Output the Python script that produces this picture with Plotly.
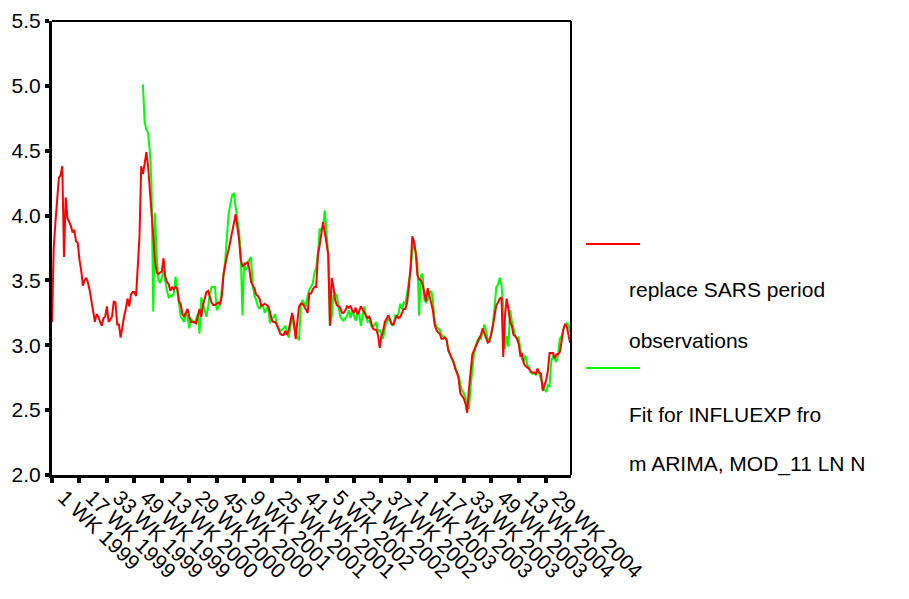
import plotly.graph_objects as go

# Weekly log influenza series: observations (SARS period replaced) and ARIMA fit
years = [1999, 2000, 2001, 2002, 2003, 2004]
weeks_per_year = 52

observed = [
    3.18, 3.75, 3.95, 4.10, 4.29, 4.31, 4.38, 3.68, 4.14, 3.98,
    3.95, 3.92, 3.87, 3.89, 3.80, 3.79, 3.66, 3.58, 3.46, 3.50,
    3.52, 3.48, 3.42, 3.35, 3.27, 3.18, 3.24, 3.22, 3.18, 3.15,
    3.21, 3.22, 3.30, 3.18, 3.20, 3.22, 3.34, 3.33, 3.16, 3.16,
    3.06, 3.16, 3.22, 3.28, 3.36, 3.30, 3.39, 3.41, 3.41, 3.38,
    3.61, 3.84, 4.38, 4.32, 4.40, 4.49, 4.38, 4.22, 4.02, 3.85,
    3.66, 3.56, 3.55, 3.56, 3.57, 3.67, 3.53, 3.49, 3.47, 3.42,
    3.45, 3.43, 3.45, 3.44, 3.34, 3.32, 3.24, 3.22, 3.25, 3.28,
    3.22, 3.18, 3.18, 3.18, 3.17, 3.23, 3.28, 3.22, 3.31, 3.36,
    3.41, 3.42, 3.38, 3.33, 3.31, 3.31, 3.32, 3.33, 3.32, 3.38,
    3.55, 3.64, 3.69, 3.74, 3.80, 3.87, 3.94, 4.01, 3.90, 3.82,
    3.66, 3.61, 3.62, 3.63, 3.64, 3.59, 3.49, 3.46, 3.44, 3.39,
    3.38, 3.36, 3.30, 3.31, 3.32, 3.31, 3.30, 3.26, 3.20, 3.18,
    3.18, 3.16, 3.12, 3.09, 3.08, 3.08, 3.11, 3.08, 3.12, 3.18,
    3.25, 3.18, 3.05, 3.18, 3.30, 3.32, 3.32, 3.30, 3.27, 3.25,
    3.40, 3.40, 3.43, 3.45, 3.45, 3.70, 3.77, 3.88, 3.95, 3.87,
    3.78, 3.70, 3.15, 3.52, 3.45, 3.35, 3.31, 3.30, 3.29, 3.25,
    3.25, 3.27, 3.30, 3.29, 3.30, 3.27, 3.25, 3.29, 3.24, 3.26,
    3.30, 3.28, 3.25, 3.23, 3.21, 3.22, 3.18, 3.13, 3.12, 3.12,
    3.08, 2.98, 3.07, 3.11, 3.18, 3.21, 3.23, 3.20, 3.16, 3.16,
    3.19, 3.23, 3.21, 3.22, 3.25, 3.28, 3.28, 3.33, 3.45, 3.60,
    3.84, 3.80, 3.71, 3.54, 3.51, 3.50, 3.47, 3.40, 3.34, 3.44,
    3.38, 3.32, 3.27, 3.16, 3.12, 3.10, 3.09, 3.05, 3.05, 3.06,
    3.04, 2.96, 2.93, 2.90, 2.87, 2.82, 2.79, 2.74, 2.63, 2.61,
    2.59, 2.55, 2.48, 2.66, 2.80, 2.93, 2.96, 2.99, 3.01, 3.04,
    3.08, 3.13, 3.09, 3.05, 3.02, 3.03, 3.08, 3.15, 3.23, 3.31,
    3.33, 3.36, 3.37, 2.91, 3.22, 3.36, 3.28, 3.18, 3.15, 3.08,
    3.07, 3.05, 3.01, 2.92, 2.93, 2.86, 2.84, 2.83, 2.82, 2.80,
    2.79, 2.79, 2.78, 2.82, 2.79, 2.78, 2.65, 2.69, 2.73, 2.80,
    2.94, 2.94, 2.94, 2.90, 2.93, 2.93, 2.95, 3.03, 3.12, 3.16,
    3.15, 3.08, 3.02,
]

# Fitted values begin one seasonal cycle (plus one week) into the series
fit_start = 53
fitted = [
    5.01, 4.72, 4.66, 4.64, 4.50, 4.25, 3.26,
    4.02, 3.70, 3.50, 3.48, 3.52, 3.58, 3.48, 3.42, 3.37, 3.38,
    3.38, 3.40, 3.53, 3.43, 3.30, 3.22, 3.20, 3.18, 3.25, 3.22,
    3.13, 3.20, 3.19, 3.17, 3.20, 3.24, 3.09, 3.37, 3.32, 3.27,
    3.22, 3.30, 3.40, 3.45, 3.45, 3.45, 3.27, 3.30, 3.32, 3.43,
    3.55, 3.66, 3.85, 4.02, 4.09, 4.16, 4.17, 4.08, 4.00, 3.88,
    3.70, 3.23, 3.64, 3.58, 3.60, 3.66, 3.68, 3.46, 3.38, 3.35,
    3.30, 3.28, 3.32, 3.31, 3.25, 3.28, 3.30, 3.17, 3.19, 3.21,
    3.24, 3.17, 3.13, 3.11, 3.12, 3.13, 3.15, 3.11, 3.06, 3.15,
    3.22, 3.14, 3.10, 3.06, 3.04, 3.30, 3.35, 3.32, 3.30, 3.38,
    3.43, 3.45, 3.48, 3.56, 3.60, 3.70, 3.90, 3.88, 3.92, 4.04,
    3.86, 3.70, 3.15, 3.22, 3.38, 3.40, 3.38, 3.30, 3.22, 3.20,
    3.19, 3.21, 3.23, 3.27, 3.21, 3.27, 3.22, 3.19, 3.24, 3.25,
    3.15, 3.23, 3.30, 3.22, 3.18, 3.19, 3.15, 3.14, 3.16, 3.18,
    3.10, 3.12, 3.08, 3.05, 3.13, 3.18, 3.20, 3.19, 3.17, 3.15,
    3.23, 3.22, 3.25, 3.32, 3.28, 3.33, 3.32, 3.40, 3.47, 3.58,
    3.72, 3.79, 3.72, 3.63, 3.23, 3.54, 3.55, 3.35, 3.33, 3.35,
    3.40, 3.42, 3.35, 3.19, 3.14, 3.13, 3.12, 3.08, 3.07, 3.06,
    3.05, 2.96, 2.93, 2.91, 2.88, 2.84, 2.79, 2.77, 2.70, 2.65,
    2.63, 2.60, 2.55, 2.51, 2.68, 2.82, 2.94, 3.00, 3.04, 3.06,
    3.05, 3.10, 3.16, 3.11, 3.04, 3.05, 3.08, 3.16, 3.28, 3.45,
    3.47, 3.52, 3.46, 3.30, 2.97, 3.07, 2.99, 3.27, 3.19, 3.14,
    3.07, 3.05, 3.06, 2.97, 2.89, 2.88, 2.92, 2.85, 2.83, 2.79,
    2.78, 2.79, 2.77, 2.81, 2.78, 2.74, 2.70, 2.66, 2.64, 2.69,
    2.68, 2.88, 2.92, 2.89, 2.87, 2.93, 3.05, 3.07, 3.12, 3.16,
    3.17, 3.16, 3.10,
]

legend_labels = [
    "replace SARS period",
    "observations",
    "Fit for INFLUEXP fro",
    "m ARIMA, MOD_11 LN N",
]

# Category labels such as "1 WK 1999"
week_labels = [f"{w} WK {y}" for y in years for w in range(1, weeks_per_year + 1)]
week_labels = week_labels[: len(observed)]
tick_labels = week_labels[::16]

FONT = "Liberation Sans, Arial, sans-serif"
RED = "#ff0000"
GREEN = "#00ff00"

fig = go.Figure()
fig.add_trace(go.Scatter(
    x=week_labels[fit_start:fit_start + len(fitted)], y=fitted,
    mode="lines", line=dict(color=GREEN, width=2), showlegend=False,
))
fig.add_trace(go.Scatter(
    x=week_labels, y=observed,
    mode="lines", line=dict(color=RED, width=2), showlegend=False,
))

fig.update_layout(
    width=909, height=599,
    margin=dict(l=52, r=338, t=21, b=124, autoexpand=False),
    paper_bgcolor="white", plot_bgcolor="white",
    font=dict(family=FONT, size=20, color="black"),
    showlegend=False,
)
fig.update_xaxes(
    type="category", categoryorder="array", categoryarray=week_labels,
    range=[0, len(observed) - 0.5], automargin=False,
    tickmode="array", tickvals=tick_labels, ticktext=tick_labels,
    tickangle=44, ticklabelshift=12, ticklabelstandoff=-6,
    ticks="outside", ticklen=5, tickwidth=4, tickcolor="black",
    showline=True, linewidth=3, linecolor="black",
    showgrid=False, zeroline=False,
    tickfont=dict(family=FONT, size=21, color="black"),
)
fig.update_yaxes(
    range=[2.0, 5.5], dtick=0.5, tick0=2.0, tickformat=".1f", automargin=False,
    ticks="outside", ticklen=4, tickwidth=4, tickcolor="black",
    showline=True, linewidth=3, linecolor="black",
    showgrid=False, zeroline=False,
    tickfont=dict(family=FONT, size=21, color="black"),
)

# Top and right frame of the plot area
fig.add_shape(type="line", xref="paper", yref="paper", x0=0, x1=1, y0=1, y1=1,
              line=dict(color="black", width=2))
fig.add_shape(type="line", xref="paper", yref="paper", x0=1, x1=1, y0=0, y1=1,
              line=dict(color="black", width=2))

# Legend: coloured line keys above wrapped labels
for key_y, color in [(0.5088, RED), (0.2357, GREEN)]:
    fig.add_shape(type="line", xref="paper", yref="paper",
                  x0=1.029, x1=1.133, y0=key_y, y1=key_y,
                  line=dict(color=color, width=2))
for text, ty in zip(legend_labels, [0.4075, 0.2952, 0.1322, 0.0242]):
    fig.add_annotation(text=text, xref="paper", yref="paper", x=1.108, y=ty,
                       xanchor="left", yanchor="middle", showarrow=False,
                       font=dict(family=FONT, size=21, color="black"))

fig.write_html("out.html")
